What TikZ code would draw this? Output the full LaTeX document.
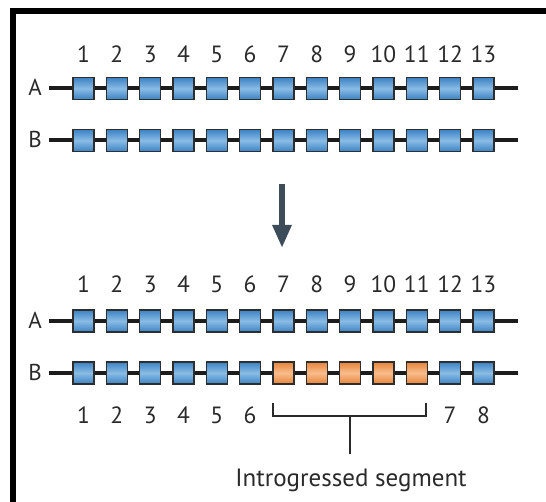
\documentclass[tikz,border=0pt]{standalone}
\usepackage{fontspec}
\setmainfont{PT Sans}
\usetikzlibrary{arrows.meta}
\definecolor{bluedark}{HTML}{3B82C4}
\definecolor{bluelight}{HTML}{8ABCE4}
\definecolor{orgdark}{HTML}{E8843A}
\definecolor{orglight}{HTML}{F8BC8C}
\definecolor{boxedge}{HTML}{2E2E2E}
\definecolor{chrom}{HTML}{1C1C1C}
\definecolor{arrowc}{HTML}{3C4D59}
\definecolor{txt}{HTML}{2A2A2A}
\tikzset{
  gene/.style={draw=boxedge, line width=1.1pt, minimum width=21pt, minimum height=22pt, inner sep=0pt},
  bluegene/.style={gene, top color=bluedark, bottom color=bluedark, middle color=bluelight},
  orggene/.style={gene, top color=orgdark, bottom color=orgdark, middle color=orglight},
  chromline/.style={draw=chrom, line width=4pt},
  numlab/.style={anchor=base, inner sep=0pt, text=txt, font=\fontsize{23.5}{26}\selectfont},
  rowlab/.style={anchor=base, inner sep=0pt, text=txt, font=\fontsize{23}{26}\selectfont},
  bracket/.style={draw=txt, line width=1.2pt},
}
\begin{document}
\begin{tikzpicture}[x=1pt, y=-1pt]
\useasboundingbox (0,0) rectangle (546,502);
% frame
\fill[black] (10,8) rectangle (546,14);
\fill[black] (10,8) rectangle (16,502);

% chromosome lines
\foreach \r/\yy in {ta/88.5, tb/140.5, ba/321, bb/373}{
  \coordinate (\r s) at (49,\yy);
  \coordinate (\r e) at (518,\yy);
  \draw[chromline] (\r s) -- (\r e);
}
% genes
\foreach \i in {1,...,13}{
  \pgfmathsetmacro{\xx}{83.5+33.33*(\i-1)}
  \node[bluegene] (ta\i) at (\xx,88.5) {};
  \node[bluegene] (tb\i) at (\xx,140.5) {};
  \node[bluegene] (ba\i) at (\xx,321) {};
  \node[numlab] (tn\i) at (\xx,63) {\i};
  \node[numlab] (bn\i) at (\xx,293) {\i};
}
\foreach \i in {1,...,6,12,13}{
  \pgfmathsetmacro{\xx}{83.5+33.33*(\i-1)}
  \node[bluegene] (bb\i) at (\xx,373) {};
}
\foreach \i in {7,...,11}{
  \pgfmathsetmacro{\xx}{83.5+33.33*(\i-1)}
  \node[orggene] (bb\i) at (\xx,373) {};
}
% numbers under bottom B
\foreach \i in {1,...,6}{
  \pgfmathsetmacro{\xx}{83.5+33.33*(\i-1)}
  \node[numlab] (un\i) at (\xx,423) {\i};
}
\node[numlab] (un7) at (450.1,423) {7};
\node[numlab] (un8) at (483.5,423) {8};

% row labels
\node[rowlab] (LA1) at (35,96) {A};
\node[rowlab] (LB1) at (35,148) {B};
\node[rowlab] (LA2) at (35,328.5) {A};
\node[rowlab] (LB2) at (35,380.5) {B};

% arrow
\coordinate (arS) at (282,184);
\coordinate (arE) at (282,248);
\draw[arrowc, line width=6pt, -{Triangle[width=18pt,length=23pt]}] (arS) -- (arE);

% bracket
\coordinate (brL) at (273,403);
\coordinate (brR) at (426,403);
\coordinate (brM) at (350,416);
\coordinate (brS) at (350,454);
\draw[bracket] (brL) -- (273,416) -- (426,416) -- (brR);
\draw[bracket] (brM) -- (brS);
\node[anchor=base, inner sep=0pt, text=txt, font=\fontsize{25}{28}\selectfont] (seg) at (351,486) {Introgressed segment};
\end{tikzpicture}
\end{document}
